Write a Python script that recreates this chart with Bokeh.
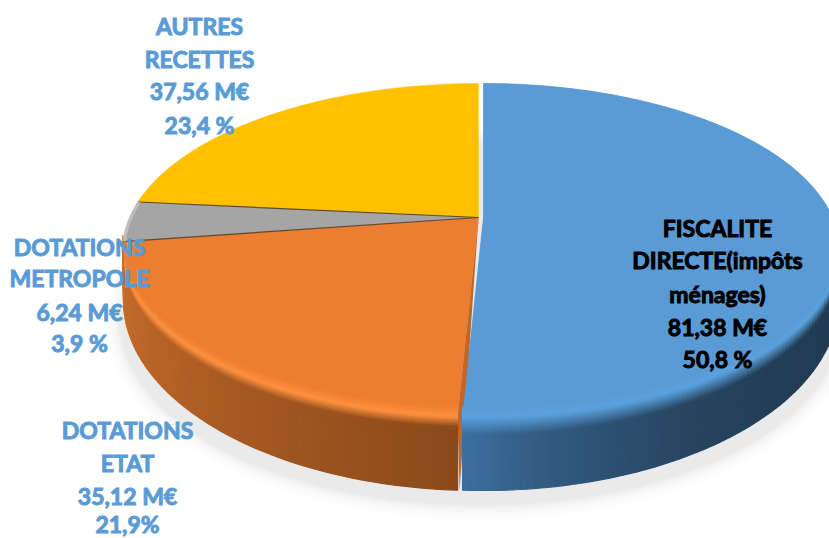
import numpy as np
from bokeh.plotting import figure
from bokeh.models import Range1d
from bokeh.core.properties import value
from bokeh.embed import file_html
from bokeh.resources import INLINE

# ---- data ----
categories = ["FISCALITE DIRECTE", "DOTATIONS ETAT", "DOTATIONS METROPOLE", "AUTRES RECETTES"]
values_meur = [81.38, 35.12, 6.24, 37.56]
top_colors = ["#5B9BD5", "#ED7D31", "#A5A5A5", "#FFC000"]
label_lines = [
    ["FISCALITE", "DIRECTE(impôts", "ménages)", "81,38 M€", "50,8 %"],
    ["DOTATIONS", "ETAT", "35,12 M€", "21,9%"],
    ["DOTATIONS", "METROPOLE", "6,24 M€", "3,9 %"],
    ["AUTRES", "RECETTES", "37,56 M€", "23,4 %"],
]
label_colors = ["#000000", "#5B9BD5", "#5B9BD5", "#5B9BD5"]

# ---- layout of the picture (page pixels) ----
CX, CY = 478.0, 217.0           # projected pie centre
K, M, T = 349.0, 160.5, 0.1976  # perspective
TOP = (250.0, 356.0, 167.0)     # top rim ellipse cy, rx, ry
BOT = (300.0, 355.0, 190.0)     # lower rim ellipse
EXPLODE = [5.0, 0.0, 0.0, 0.0]
label_x = [717, 127, 79, 199]
label_y = [[227, 259, 293, 326, 358], [429, 462, 495, 523], [246, 277, 311, 342], [25.5, 58, 90, 124]]
FONT_PX = 23
FONT = "Lato"

p = figure(width=829, height=538, output_backend="svg", toolbar_location=None,
           x_range=Range1d(0, 829), y_range=Range1d(538, 0), min_border=0)
p.axis.visible = False
p.grid.visible = False
p.outline_line_color = None
p.background_fill_color = "#ffffff"
p.border_fill_color = "#ffffff"


def rim(a, dx=0.0):
    """Point of the circular pie's rim at clockwise angle a (rad) from top."""
    u, v = np.sin(a), np.cos(a)
    w = 1 + T * v
    return CX + dx + K * u / w, CY - M * v / w


def hex2rgb(h):
    return np.array([int(h[i:i + 2], 16) for i in (1, 3, 5)], float)


def mix(c1, c2, f):
    c = hex2rgb(c1) * (1 - f) + hex2rgb(c2) * f
    return "#%02x%02x%02x" % tuple(int(round(x)) for x in c)


def side_ring(phi, t, dx):
    xt = CX + dx + TOP[1] * np.cos(phi)
    yt = TOP[0] + TOP[2] * np.sin(phi)
    xb = CX + dx + BOT[1] * np.cos(phi)
    yb = BOT[0] + BOT[2] * np.sin(phi)
    return xt + (xb - xt) * t, yt + (yb - yt) * t


def draw_side(phi0, phi1, dx, left, right, hi, top, blend, power):
    """Shaded rim: band from top colour through a highlight to the side gradient."""
    ts = np.array([-0.14, -0.10, -0.06, -0.03, 0.0, 0.03, 0.06, 0.09, 0.12, 0.15,
                   0.18, 0.21, 0.24, 0.28, 1.0])
    n = int(max(abs(phi1 - phi0) * 50, 8))
    phis = np.linspace(phi0, phi1, n + 1)
    xs, ys, cs = [], [], []
    for i in range(n):
        f = ((i + 0.5) / n) ** power
        base = mix(left, right, f)
        for j in range(len(ts) - 1):
            tm = 0.5 * (ts[j] + ts[j + 1])
            if tm < 0:
                col = mix(top, hi, 1 + tm / 0.14)
            elif tm < blend:
                col = mix(hi, base, tm / blend)
            else:
                col = base
            a = side_ring(phis[i:i + 2], ts[j], dx)
            b = side_ring(phis[i:i + 2], ts[j + 1], dx)
            xs.append([a[0][0], a[0][1], b[0][1], b[0][0]])
            ys.append([a[1][0], a[1][1], b[1][1], b[1][0]])
            cs.append(col)
    p.patches(xs, ys, fill_color=cs, line_color=cs, line_width=1.2)


# soft ground shadow
for grow, alpha in [(16, 0.012), (13, 0.016), (10, 0.02), (7, 0.025), (4, 0.03), (2, 0.035), (0, 0.04)]:
    th = np.linspace(0, 2 * np.pi, 160)
    p.patch(480 + (360 + grow) * np.cos(th), 322 + (183 + grow) * np.sin(th),
            fill_color="#808080", fill_alpha=alpha, line_color=None)

total = sum(values_meur)
edges = np.concatenate([[0], np.cumsum(values_meur)]) / total * 2 * np.pi


def phi_of(a):
    x, y = rim(a)
    return np.arctan2((y - TOP[0]) / TOP[2], (x - CX) / TOP[1]) % (2 * np.pi)


# top faces
for i in [2, 3, 1, 0]:
    a = np.linspace(edges[i], edges[i + 1], 120)
    x, y = rim(a, EXPLODE[i])
    xs = np.concatenate([[CX + EXPLODE[i]], x])
    ys = np.concatenate([[CY], y])
    p.patch(xs, ys, fill_color=top_colors[i], line_color=top_colors[i], line_width=0.4)

# cut face of the orange slice
ex, ey = rim(edges[1])
p.patch([CX, ex, ex + 2], [CY, ey, BOT[0] + BOT[2]], fill_color="#C0662B", line_color=None)

# shaded walls and rim bevels
draw_side(phi_of(edges[1]), phi_of(edges[2]), 0.0, "#8A4A1B", "#CB6E2C", "#FF9140", top_colors[1], 0.14, 1.0)
a = np.linspace(edges[0], edges[1], 120)
x, y = rim(a, EXPLODE[0])
p.patch(np.concatenate([[CX + EXPLODE[0]], x]), np.concatenate([[CY], y]),
        fill_color=top_colors[0], line_color=top_colors[0], line_width=0.4)
draw_side(0.0, phi_of(edges[1]), EXPLODE[0], "#223B52", "#3C6F9E", "#5BA2DE", top_colors[0], 0.24, 3.0)

# dark seams of the small slice
for a in (edges[2], edges[3]):
    x, y = rim(a)
    p.line([CX, x], [CY, y], line_color="#5B4A32", line_width=1.2)

# pale bevel on the grey rim
a = np.linspace(edges[2], edges[3], 30)
x, y = rim(a)
p.line(x + 1.5, y, line_color="#C4C4C4", line_width=3, line_alpha=0.8)

# labels
for lines, lx, ly, col in zip(label_lines, label_x, label_y, label_colors):
    p.text([lx] * len(lines), ly, text=lines, text_color=col, text_align="center",
           text_baseline="middle", text_font=value(FONT), text_font_style="bold",
           text_font_size=f"{FONT_PX}px", text_outline_color=col)

open("out.html", "w").write(file_html(p, INLINE))
